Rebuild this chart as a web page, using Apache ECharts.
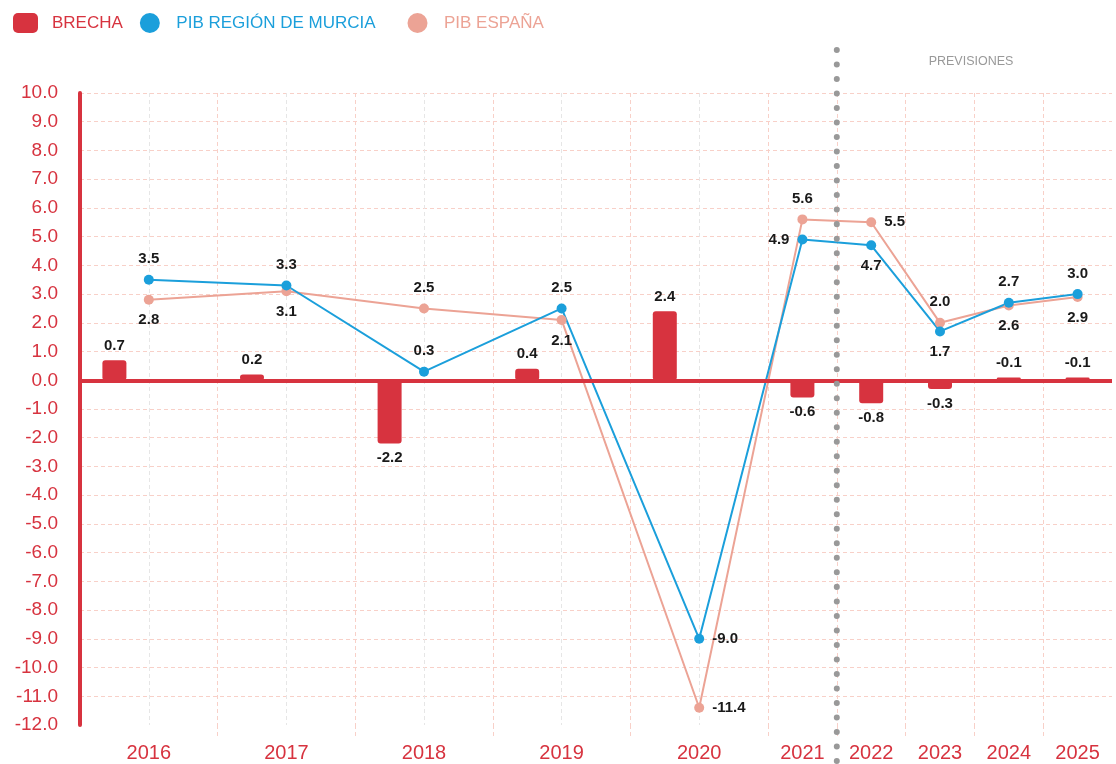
<!DOCTYPE html>
<html>
<head>
<meta charset="utf-8">
<script src="https://cdn.jsdelivr.net/npm/echarts@6/dist/echarts.min.js"></script>
<style>
  html, body { margin: 0; padding: 0; background: #fff; }
  #chart { width: 1116px; height: 764px; }
</style>
</head>
<body>
<div id="chart"></div>
<script>
// datos
var years = ['2016', '2017', '2018', '2019', '2020', '2021', '2022', '2023', '2024', '2025'];
var brecha = [0.7, 0.2, -2.2, 0.4, 2.4, -0.6, -0.8, -0.3, 0.1, 0.1];
var brechaLabels = ['0.7', '0.2', '-2.2', '0.4', '2.4', '-0.6', '-0.8', '-0.3', '-0.1', '-0.1'];
var pibMurcia = [3.5, 3.3, 0.3, 2.5, -9.0, 4.9, 4.7, 1.7, 2.7, 3.0];
var pibEspana = [2.8, 3.1, 2.5, 2.1, -11.4, 5.6, 5.5, 2.0, 2.6, 2.9];
var yMin = -12, yMax = 10, yStep = 1;

// donde va cada etiqueta
var murciaLabelPos = ['top', 'top', 'top', 'top', 'right', 'left', 'bottom', 'bottom', 'top', 'top'];
var espanaLabelPos = ['bottom', 'bottom', 'top', 'bottom', 'right', 'top', 'right', 'top', 'bottom', 'bottom'];

var RED = '#d7333f', BLUE = '#1b9fdb', SALMON = '#eca395';
var PINK_GRID = '#f8d0c8', GREY_GRID = '#e6e6e6';
var FONT = "'Helvetica Neue', Helvetica, 'Liberation Sans', Arial, sans-serif";

// los años hasta 2020 ocupan doble hueco en el eje
function slot(i) { return i < 5 ? 2 * i + 1 : i + 5.5; }
function barSlot(i) { return i < 5 ? 2 * i + 0.5 : i + 5.5; }

var xLineColors = [];
for (var v = 0; v <= 15; v++) {
  if (v === 0 || v === 15) xLineColors.push('rgba(0,0,0,0)');
  else if (v < 10 && v % 2 === 1) xLineColors.push(GREY_GRID);
  else xLineColors.push(PINK_GRID);
}

var labelStyle = { show: true, fontWeight: 'bold', fontSize: 15, color: '#1a1a1a', fontFamily: FONT };

var chart = echarts.init(document.getElementById('chart'));

chart.setOption({
  animation: false,
  backgroundColor: '#fff',
  textStyle: { fontFamily: FONT },
  legend: [
    {
      left: 8, top: 8, itemWidth: 25, itemHeight: 20, itemGap: 17,
      selectedMode: false,
      textStyle: { fontSize: 17, padding: [0, 0, 0, 9], fontFamily: FONT },
      data: [
        { name: 'BRECHA', icon: 'roundRect', textStyle: { color: RED } },
        { name: 'PIB REGIÓN DE MURCIA', icon: 'circle', textStyle: { color: BLUE } }
      ]
    },
    {
      left: 402.5, top: 8, itemWidth: 25, itemHeight: 20,
      selectedMode: false,
      textStyle: { fontSize: 17, padding: [0, 0, 0, 9], fontFamily: FONT },
      data: [
        { name: 'PIB ESPAÑA', icon: 'circle', textStyle: { color: SALMON } }
      ]
    }
  ],
  grid: { left: 80, right: 4, top: 93, bottom: 39 },
  xAxis: [
    {
      type: 'value', min: 0, max: 15, interval: 1, position: 'bottom',
      axisLine: { show: false },
      axisTick: { show: false },
      axisLabel: {
        customValues: years.map(function (y, i) { return slot(i); }),
        formatter: function (val) {
          for (var i = 0; i < years.length; i++) {
            if (Math.abs(slot(i) - val) < 1e-6) return years[i];
          }
          return '';
        },
        color: RED, fontSize: 20, margin: 18
      },
      splitLine: { show: true, lineStyle: { color: xLineColors, type: [4, 3], width: 1 } }
    },
    {
      type: 'value', min: 0, max: 15, position: 'bottom',
      axisLine: { show: false },
      axisLabel: { show: false },
      splitLine: { show: false },
      axisTick: {
        show: true, length: 13,
        customValues: [2, 4, 6, 8, 10, 11, 12, 13, 14],
        lineStyle: { color: PINK_GRID, type: [4, 3] }
      }
    }
  ],
  yAxis: {
    type: 'value', min: yMin, max: yMax, interval: yStep,
    axisLine: { show: true, onZero: false, lineStyle: { color: RED, width: 4, cap: 'round' } },
    axisTick: { show: false },
    axisLabel: {
      color: RED, fontSize: 19, margin: 22,
      formatter: function (val) { return val.toFixed(1); }
    },
    splitLine: { show: true, showMinLine: false, lineStyle: { color: PINK_GRID, type: [4, 3] } }
  },
  series: [
    {
      name: 'BRECHA',
      type: 'bar',
      barWidth: 24,
      itemStyle: { color: RED, borderRadius: 3 },
      label: Object.assign({}, labelStyle, {
        distance: 7,
        formatter: function (p) { return brechaLabels[p.dataIndex]; }
      }),
      data: brecha.map(function (val, i) {
        return { value: [barSlot(i), val], label: { position: val >= 0 ? 'top' : 'bottom' } };
      }),
      markLine: {
        silent: true, symbol: 'none',
        label: { show: false },
        lineStyle: { color: RED, width: 4, type: 'solid' },
        data: [{ yAxis: 0 }]
      }
    },
    {
      name: 'PIB ESPAÑA',
      type: 'line',
      symbol: 'circle', symbolSize: 10,
      lineStyle: { color: SALMON, width: 2 },
      itemStyle: { color: SALMON },
      label: Object.assign({}, labelStyle, {
        distance: 8,
        formatter: function (p) { return p.value[1].toFixed(1); }
      }),
      data: pibEspana.map(function (val, i) {
        return { value: [slot(i), val], label: { position: espanaLabelPos[i] } };
      })
    },
    {
      name: 'PIB REGIÓN DE MURCIA',
      type: 'line',
      symbol: 'circle', symbolSize: 10,
      lineStyle: { color: BLUE, width: 2 },
      itemStyle: { color: BLUE },
      label: Object.assign({}, labelStyle, {
        distance: 8,
        formatter: function (p) { return p.value[1].toFixed(1); }
      }),
      data: pibMurcia.map(function (val, i) {
        return { value: [slot(i), val], label: { position: murciaLabelPos[i] } };
      })
    }
  ]
});

// linea de puntos de "previsiones" entre 2021 y 2022
var divX = chart.convertToPixel({ xAxisIndex: 0 }, 11);
chart.setOption({
  graphic: [
    {
      type: 'line', z: 100, silent: true,
      shape: { x1: divX, y1: 50, x2: divX, y2: 764 },
      style: { stroke: '#999999', lineWidth: 6, lineDash: [0.01, 14.5], lineCap: 'round' }
    },
    {
      type: 'text', z: 100, silent: true,
      x: 971, y: 62,
      style: {
        text: 'PREVISIONES', fill: '#999', font: '12.5px ' + FONT,
        align: 'center', verticalAlign: 'middle'
      }
    }
  ]
});
</script>
</body>
</html>
